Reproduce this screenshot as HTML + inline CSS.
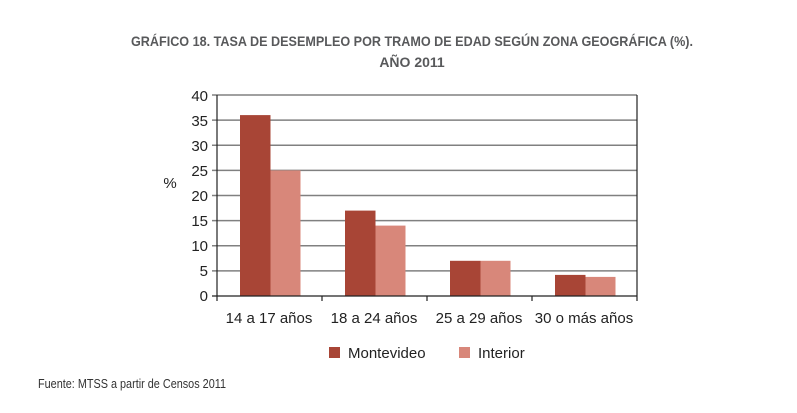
<!DOCTYPE html>
<html><head><meta charset="utf-8"><style>
body{margin:0;background:#fff;}
svg text{font-family:"Liberation Sans",sans-serif;}
</style></head><body>
<svg width="797" height="408" xmlns="http://www.w3.org/2000/svg">
<rect width="797" height="408" fill="#fff"/>
<text x="412" y="46" text-anchor="middle" font-size="14" font-weight="bold" fill="#58595b" textLength="562" lengthAdjust="spacingAndGlyphs">GRÁFICO 18. TASA DE DESEMPLEO POR TRAMO DE EDAD SEGÚN ZONA GEOGRÁFICA (%).</text>
<text x="412" y="67" text-anchor="middle" font-size="14" font-weight="bold" fill="#58595b">AÑO 2011</text>
<g stroke="#808080" stroke-width="1.5">
<line x1="212" y1="95" x2="637" y2="95"/>
<line x1="212" y1="120.1" x2="637" y2="120.1"/>
<line x1="212" y1="145.3" x2="637" y2="145.3"/>
<line x1="212" y1="170.4" x2="637" y2="170.4"/>
<line x1="212" y1="195.5" x2="637" y2="195.5"/>
<line x1="212" y1="220.6" x2="637" y2="220.6"/>
<line x1="212" y1="245.8" x2="637" y2="245.8"/>
<line x1="212" y1="270.9" x2="637" y2="270.9"/>
</g>
<g>
<rect x="240" y="115.1" width="30.5" height="180.9" fill="#a84536"/>
<rect x="270.5" y="170.4" width="30" height="125.6" fill="#d8877a"/>
<rect x="345" y="210.6" width="30.5" height="85.4" fill="#a84536"/>
<rect x="375.5" y="225.6" width="30" height="70.4" fill="#d8877a"/>
<rect x="450" y="260.8" width="30.5" height="35.2" fill="#a84536"/>
<rect x="480.5" y="260.8" width="30" height="35.2" fill="#d8877a"/>
<rect x="555" y="274.9" width="30.5" height="21.1" fill="#a84536"/>
<rect x="585.5" y="276.9" width="30" height="19.1" fill="#d8877a"/>
</g>
<g stroke="#222" stroke-width="1.2">
<line x1="217" y1="95" x2="217" y2="301"/>
<line x1="637" y1="95" x2="637" y2="301"/>
<line x1="212" y1="296" x2="637" y2="296"/>
<line x1="322" y1="296" x2="322" y2="301"/>
<line x1="427" y1="296" x2="427" y2="301"/>
<line x1="532" y1="296" x2="532" y2="301"/>
</g>
<g font-size="15" fill="#222" text-anchor="end">
<text x="208" y="101">40</text><text x="208" y="126">35</text><text x="208" y="151">30</text><text x="208" y="176">25</text>
<text x="208" y="201">20</text><text x="208" y="226">15</text><text x="208" y="251">10</text><text x="208" y="276">5</text><text x="208" y="301">0</text>
</g>
<text x="170" y="188" font-size="15" fill="#222" text-anchor="middle">%</text>
<g font-size="15" fill="#222" text-anchor="middle">
<text x="269" y="323">14 a 17 años</text><text x="374" y="323">18 a 24 años</text>
<text x="479" y="323">25 a 29 años</text><text x="584" y="323">30 o más años</text>
</g>
<rect x="329" y="347" width="11" height="11" fill="#a84536"/>
<text x="348" y="358" font-size="15" fill="#222">Montevideo</text>
<rect x="459" y="347" width="11" height="11" fill="#d8877a"/>
<text x="478" y="358" font-size="15" fill="#222">Interior</text>
<text x="38" y="388" font-size="12.5" fill="#333" textLength="188" lengthAdjust="spacingAndGlyphs">Fuente: MTSS a partir de Censos 2011</text>
</svg>
</body></html>
